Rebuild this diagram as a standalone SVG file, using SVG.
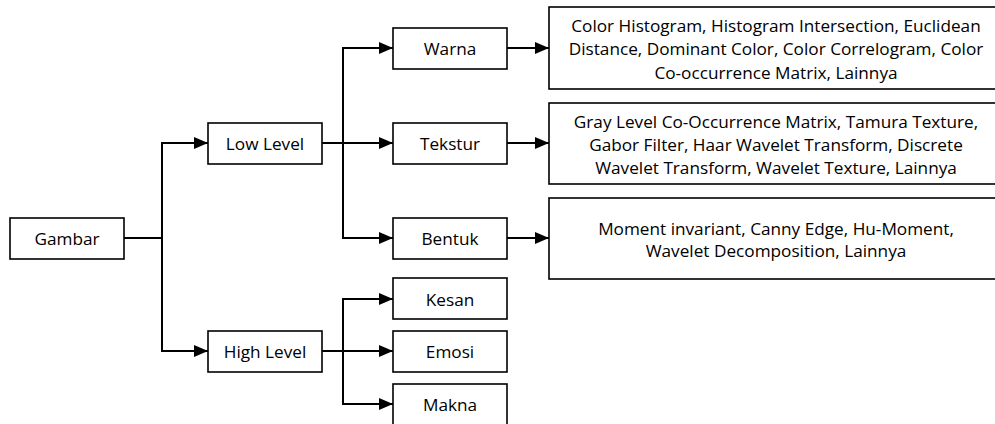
<svg xmlns="http://www.w3.org/2000/svg" width="995" height="424" viewBox="0 0 995 424">
  <defs>
    <marker id="arrow" markerWidth="14" markerHeight="12" refX="14" refY="6" orient="auto" markerUnits="userSpaceOnUse">
      <path d="M0,0 L14,6 L0,12 Z" fill="#000"/>
    </marker>
    <style>
      .box { fill: #fff; stroke: #000; stroke-width: 1.6; }
      .lbl { font-family: "Open Sans", "Liberation Sans", sans-serif; font-size: 17.2px; fill: #000; text-anchor: middle; dominant-baseline: central; }
      .wire { fill: none; stroke: #000; stroke-width: 2; }
    </style>
  </defs>
  <rect width="995" height="424" fill="#fff"/>

  <!-- connectors -->
  <g id="connectors">
    <path class="wire" d="M124,238 H162 V143 H208" marker-end="url(#arrow)"/>
    <path class="wire" d="M162,238 V351 H208" marker-end="url(#arrow)"/>
    <path class="wire" d="M322,143 H343 V48 H393" marker-end="url(#arrow)"/>
    <path class="wire" d="M343,143 H393" marker-end="url(#arrow)"/>
    <path class="wire" d="M343,143 V238 H393" marker-end="url(#arrow)"/>
    <path class="wire" d="M507,48 H549" marker-end="url(#arrow)"/>
    <path class="wire" d="M507,143 H549" marker-end="url(#arrow)"/>
    <path class="wire" d="M507,238 H549" marker-end="url(#arrow)"/>
    <path class="wire" d="M322,351 H343 V299 H393" marker-end="url(#arrow)"/>
    <path class="wire" d="M343,351 H393" marker-end="url(#arrow)"/>
    <path class="wire" d="M343,351 V404 H393" marker-end="url(#arrow)"/>
  </g>

  <g id="gambar">
    <rect class="box" x="10" y="218" width="114" height="41"/>
    <text class="lbl" x="67" y="238">Gambar</text>
  </g>
  <g id="low-level">
    <rect class="box" x="208" y="123" width="114" height="41"/>
    <text class="lbl" x="265" y="143">Low Level</text>
  </g>
  <g id="high-level">
    <rect class="box" x="208" y="331" width="114" height="41"/>
    <text class="lbl" x="265" y="351">High Level</text>
  </g>
  <g id="warna">
    <rect class="box" x="393" y="28" width="114" height="41"/>
    <text class="lbl" x="450" y="48">Warna</text>
  </g>
  <g id="tekstur">
    <rect class="box" x="393" y="123" width="114" height="41"/>
    <text class="lbl" x="450" y="143">Tekstur</text>
  </g>
  <g id="bentuk">
    <rect class="box" x="393" y="218" width="114" height="41"/>
    <text class="lbl" x="450" y="238">Bentuk</text>
  </g>
  <g id="kesan">
    <rect class="box" x="393" y="278" width="114" height="41"/>
    <text class="lbl" x="450" y="299">Kesan</text>
  </g>
  <g id="emosi">
    <rect class="box" x="393" y="331" width="114" height="41"/>
    <text class="lbl" x="450" y="351">Emosi</text>
  </g>
  <g id="makna">
    <rect class="box" x="393" y="384" width="114" height="41"/>
    <text class="lbl" x="450" y="404">Makna</text>
  </g>

  <g id="warna-methods">
    <rect class="box" x="549" y="7" width="454" height="82"/>
    <text class="lbl" x="776" y="25">Color Histogram, Histogram Intersection, Euclidean</text>
    <text class="lbl" x="776" y="48">Distance, Dominant Color, Color Correlogram, Color</text>
    <text class="lbl" x="776" y="72">Co-occurrence Matrix, Lainnya</text>
  </g>
  <g id="tekstur-methods">
    <rect class="box" x="549" y="103" width="454" height="81"/>
    <text class="lbl" x="776" y="121">Gray Level Co-Occurrence Matrix, Tamura Texture,</text>
    <text class="lbl" x="776" y="144">Gabor Filter, Haar Wavelet Transform, Discrete</text>
    <text class="lbl" x="776" y="167">Wavelet Transform, Wavelet Texture, Lainnya</text>
  </g>
  <g id="bentuk-methods">
    <rect class="box" x="549" y="198" width="454" height="81"/>
    <text class="lbl" x="776" y="228">Moment invariant, Canny Edge, Hu-Moment,</text>
    <text class="lbl" x="776" y="250">Wavelet Decomposition, Lainnya</text>
  </g>
</svg>
